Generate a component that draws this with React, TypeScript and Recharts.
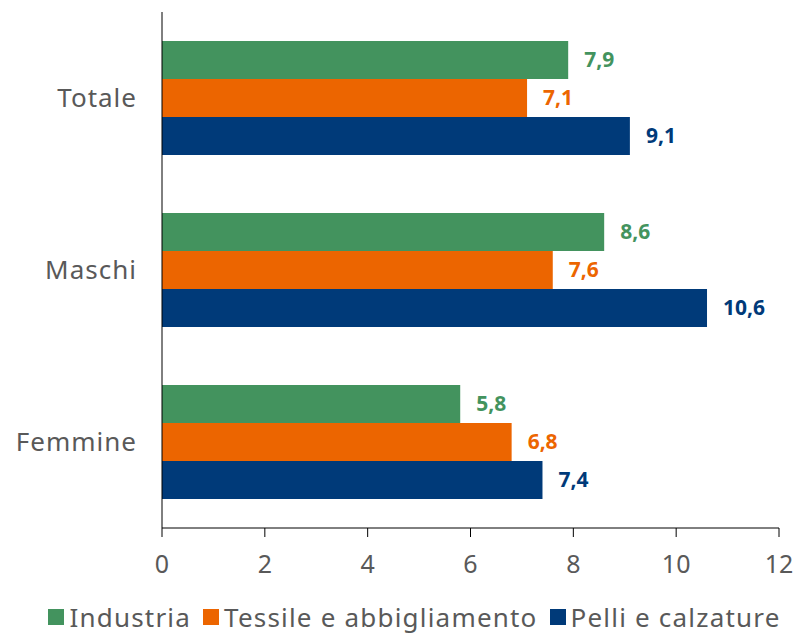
import React from "react";
import { BarChart, Bar, XAxis, YAxis, Legend, LabelList } from "recharts";

const categories = ["Totale", "Maschi", "Femmine"];
const industria = [7.9, 8.6, 5.8];
const tessile = [7.1, 7.6, 6.8];
const pelli = [9.1, 10.6, 7.4];
const xTicks = [0, 2, 4, 6, 8, 10, 12];

const GREEN = "#43935E";
const ORANGE = "#EC6500";
const BLUE = "#003A79";
const TEXT = "#595959";
const FONT = "'Noto Sans', sans-serif";

const series = [
  { key: "industria", name: "Industria", color: GREEN },
  { key: "tessile", name: "Tessile e abbigliamento", color: ORANGE },
  { key: "pelli", name: "Pelli e calzature", color: BLUE },
];

const data = categories.map((c, i) => ({
  name: c,
  industria: industria[i],
  tessile: tessile[i],
  pelli: pelli[i],
}));

const fmt = (v: any) => String(v).replace(".", ",");

// legend in fixed order, fixed height
function LegendBox() {
  return (
    <div
      style={{
        width: 801,
        height: 46,
        display: "flex",
        justifyContent: "center",
        alignItems: "center",
        whiteSpace: "nowrap",
        fontFamily: FONT,
        fontSize: 26,
        letterSpacing: 1.2,
        color: TEXT,
        paddingLeft: 40,
        paddingTop: 12,
        boxSizing: "border-box",
      }}
    >
      {series.map((s) => (
        <span key={s.key} style={{ display: "flex", alignItems: "center", marginRight: 12 }}>
          <span style={{ width: 16, height: 16, background: s.color, marginRight: 5 }} />
          <span style={{ lineHeight: "30px" }}>{s.name}</span>
        </span>
      ))}
    </div>
  );
}

export default function App() {
  return (
    <div style={{ position: "absolute", left: 0, top: 0, fontFamily: FONT }}>
      <BarChart
        width={801}
        height={636}
        data={data}
        layout="vertical"
        margin={{ top: 12, right: 22, left: 0, bottom: 2 }}
        barGap={0}
      >
        <XAxis
          type="number"
          domain={[0, 12]}
          ticks={xTicks}
          stroke="#000"
          tickSize={9}
          tickMargin={18}
          height={60}
          tick={{ fontSize: 25, fill: TEXT, fontFamily: FONT }}
        />
        <YAxis
          type="category"
          dataKey="name"
          width={162}
          stroke="#000"
          tickLine={false}
          tickSize={0}
          tickMargin={25}
          tick={{ fontSize: 26, fill: TEXT, fontFamily: FONT, letterSpacing: 1 }}
        />
        <Legend
          verticalAlign="bottom"
          content={<LegendBox />}
          wrapperStyle={{ left: 0, width: 801 }}
        />
        {series.map((s) => (
          <Bar key={s.key} dataKey={s.key} name={s.name} fill={s.color} barSize={38} isAnimationActive={false}>
            <LabelList
              dataKey={s.key}
              position="right"
              offset={16}
              formatter={fmt}
              style={{ fill: s.color, fontSize: 21, fontWeight: 700, fontFamily: FONT }}
            />
          </Bar>
        ))}
      </BarChart>
    </div>
  );
}
